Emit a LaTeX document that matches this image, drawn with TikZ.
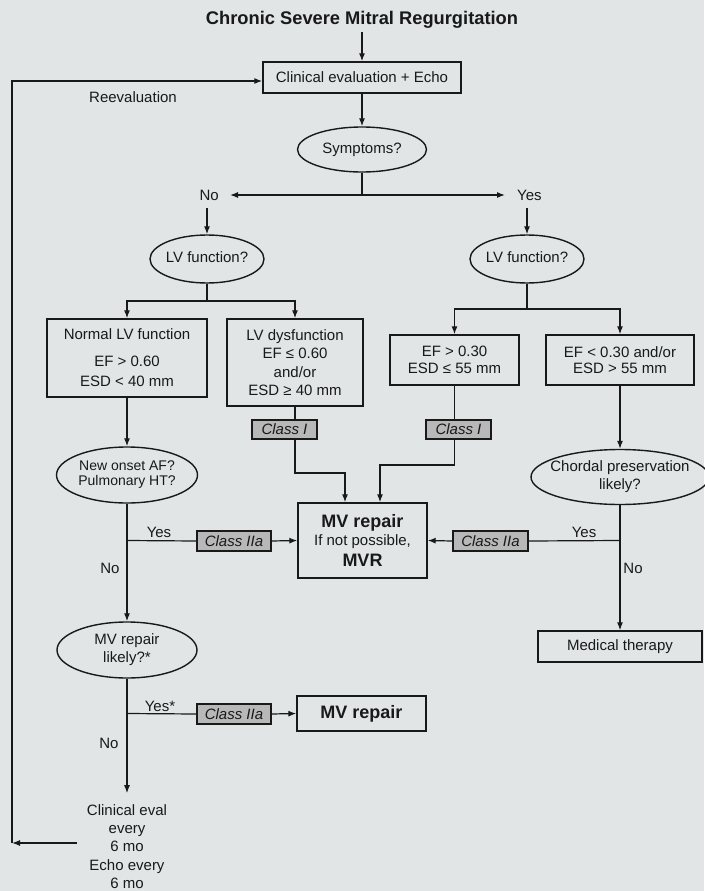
\documentclass[tikz,border=0pt]{standalone}
\usepackage{fontspec}
\setmainfont{Liberation Sans}
\usetikzlibrary{arrows.meta,shapes.geometric}
\definecolor{paper}{RGB}{226,229,230}
\definecolor{classfill}{RGB}{184,184,184}
\definecolor{ink}{RGB}{25,25,25}
% text centred inside an ellipse without widening it
\newcommand{\ovtext}[1]{\makebox[0pt]{\begin{tabular}{@{}c@{}}#1\end{tabular}}}
\newcommand{\bigbold}[1]{{\fontsize{18}{20}\selectfont\bfseries #1}}

\begin{document}
\begin{tikzpicture}[x=1pt,y=-1pt,
  every node/.style={font=\fontsize{15}{18.3}\selectfont, text=ink},
  box/.style={draw=ink, line width=1.4pt, rectangle, inner sep=0pt, align=center},
  oval/.style={draw=ink, line width=1.4pt, ellipse, inner sep=0pt},
  cls/.style={draw=ink, line width=1.2pt, fill=classfill, inner sep=0pt,
              minimum height=19pt, font=\fontsize{15}{18}\selectfont\itshape},
  lbl/.style={inner sep=2pt},
  conn/.style={draw=ink, line width=1.2pt},
  arr/.style={conn, -{Latex[length=8pt,width=6pt]}},
]
\useasboundingbox (0,0) rectangle (704,891);
\fill[paper] (0,0) rectangle (704,891);

% ---- top ----
\node[font=\fontsize{18.3}{20}\selectfont\bfseries] (title) at (362,20) {Chronic Severe Mitral Regurgitation};
\node[box, minimum width=198pt, minimum height=31pt] (eval) at (362,77.5) {Clinical evaluation + Echo};
\node (reeval) at (133,97) {Reevaluation};
\node[oval, minimum width=129pt, minimum height=45pt] (sym) at (362,149.5) {\ovtext{Symptoms?}};
\node[lbl, anchor=east, inner xsep=11pt, inner ysep=8pt] (no1) at (230,195) {No};
\node[lbl, anchor=west, inner xsep=12pt, inner ysep=8pt] (yes1) at (505,195) {Yes};

% ---- LV function ----
\node[oval, minimum width=114pt, minimum height=48pt] (lvL) at (207,259) {\ovtext{LV function?}};
\node[oval, minimum width=114pt, minimum height=48pt] (lvR) at (527,259) {\ovtext{LV function?}};
\node[box, minimum width=160pt, minimum height=78pt] (normal) at (127,358)
  {Normal LV function\\[8.7pt]EF > 0.60\\[1.7pt]ESD < 40 mm};
\node[box, minimum width=136pt, minimum height=87pt] (dys) at (295,362.5)
  {LV dysfunction\\EF ≤ 0.60\\and/or\\ESD ≥ 40 mm};
\node[box, minimum width=129pt, minimum height=50pt] (ef30) at (454.5,360)
  {EF > 0.30\\[-1.6pt]ESD ≤ 55 mm};
\node[box, minimum width=148pt, minimum height=50pt] (eflow) at (620,360)
  {EF < 0.30 and/or\\[-1.6pt]ESD > 55 mm};
\node[cls, minimum width=65pt] (c1L) at (284.5,429.5) {Class I};
\node[cls, minimum width=65pt] (c1R) at (458.5,429.5) {Class I};

% ---- middle ----
\node[box, minimum width=129pt, minimum height=75pt] (mv) at (362.5,540.5)
  {\bigbold{MV repair}\\[-1pt]If not possible,\\[3pt]\bigbold{MVR}};
\node[oval, minimum width=141pt, minimum height=56pt, font=\fontsize{14}{15}\selectfont] (onset) at (127,475)
  {\ovtext{New onset AF?\\Pulmonary HT?}};
\node[oval, minimum width=178pt, minimum height=55pt] (chord) at (620,477)
  {\ovtext{Chordal preservation\\likely?}};
\node[box, minimum width=164pt, minimum height=31pt] (med) at (620,646.5) {Medical therapy};
\node[cls, minimum width=74pt, minimum height=20pt] (c2L) at (234,541) {Class IIa};
\node[cls, minimum width=75pt, minimum height=20pt] (c2R) at (490.5,541) {Class IIa};
\node[lbl] (yesL) at (159,532) {Yes};
\node[lbl] (noL) at (110,568) {No};
\node[lbl] (yesR) at (584,532) {Yes};
\node[lbl] (noR) at (633,568) {No};

% ---- bottom ----
\node[oval, minimum width=140pt, minimum height=56pt] (mvl) at (127,650) {\ovtext{MV repair\\likely?*}};
\node[cls, minimum width=74pt, minimum height=20pt] (c3) at (234,714) {Class IIa};
\node[box, minimum width=129pt, minimum height=35pt] (mvr) at (361.5,713.5) {\bigbold{MV repair}};
\node[lbl] (yes3) at (160,706) {Yes*};
\node[lbl] (no3) at (109,743) {No};
\node[align=center, inner xsep=10pt, inner ysep=11pt] (echo) at (127,846.5)
  {Clinical eval\\every\\6 mo\\Echo every\\6 mo};

% ---- junctions ----
\coordinate (j1) at (sym.south |- no1.east);
\coordinate (bL) at (207,301);
\coordinate (bR) at (527,309);
\coordinate (kL1) at (295,473);
\coordinate (kL2) at (345,473);
\coordinate (kR1) at (454.5,465);
\coordinate (kR2) at (380,465);
\coordinate (jL) at (onset.south |- mv.west);
\coordinate (jR) at (chord.south |- mv.east);
\coordinate (jB) at (mvl.south |- mvr.west);
\coordinate (loopB) at (12,843);
\coordinate (loopT) at (12,81);

% ---- connectors ----
\draw[arr] (title.south) -- (eval.north);
\draw[arr] (eval.south) -- (sym.north);
\draw[conn] (sym.south) -- (j1);
\draw[arr] (j1) -- (no1.east);
\draw[arr] (j1) -- (yes1.west);
\draw[arr] (no1.south -| lvL.north) -- (lvL.north);
\draw[arr] (yes1.south -| lvR.north) -- (lvR.north);
\draw[conn] (lvL.south) -- (bL);
\draw[arr] (bL) -| (normal.north);
\draw[arr] (bL) -| (dys.north);
\draw[conn] (lvR.south) -- (bR);
\draw[arr] (bR) -| (ef30.north);
\draw[arr] (bR) -| (eflow.north);

\draw[conn] (dys.south) -- (dys.south |- c1L.north);
\draw[arr] (dys.south |- c1L.south) -- (kL1) -- (kL2) -- (kL2 |- mv.north);
\draw[conn] (ef30.south) -- (ef30.south |- c1R.north);
\draw[arr] (ef30.south |- c1R.south) -- (kR1) -- (kR2) -- (kR2 |- mv.north);

\draw[arr] (normal.south) -- (onset.north);
\draw[arr] (eflow.south) -- (chord.north);
\draw[arr] (onset.south) -- (mvl.north);
\draw[conn] (jL) -- (c2L.west);
\draw[arr] (c2L.east) -- (mv.west);
\draw[arr] (chord.south) -- (med.north);
\draw[conn] (jR) -- (c2R.east);
\draw[arr] (c2R.west) -- (mv.east);

\draw[arr] (mvl.south) -- (echo.north);
\draw[conn] (jB) -- (c3.west);
\draw[arr] (c3.east) -- (mvr.west);

\draw[arr] (echo.west |- loopB) -- (loopB);
\draw[arr] (loopB) -- (loopT) -- (loopT -| eval.west);
\end{tikzpicture}
\end{document}
